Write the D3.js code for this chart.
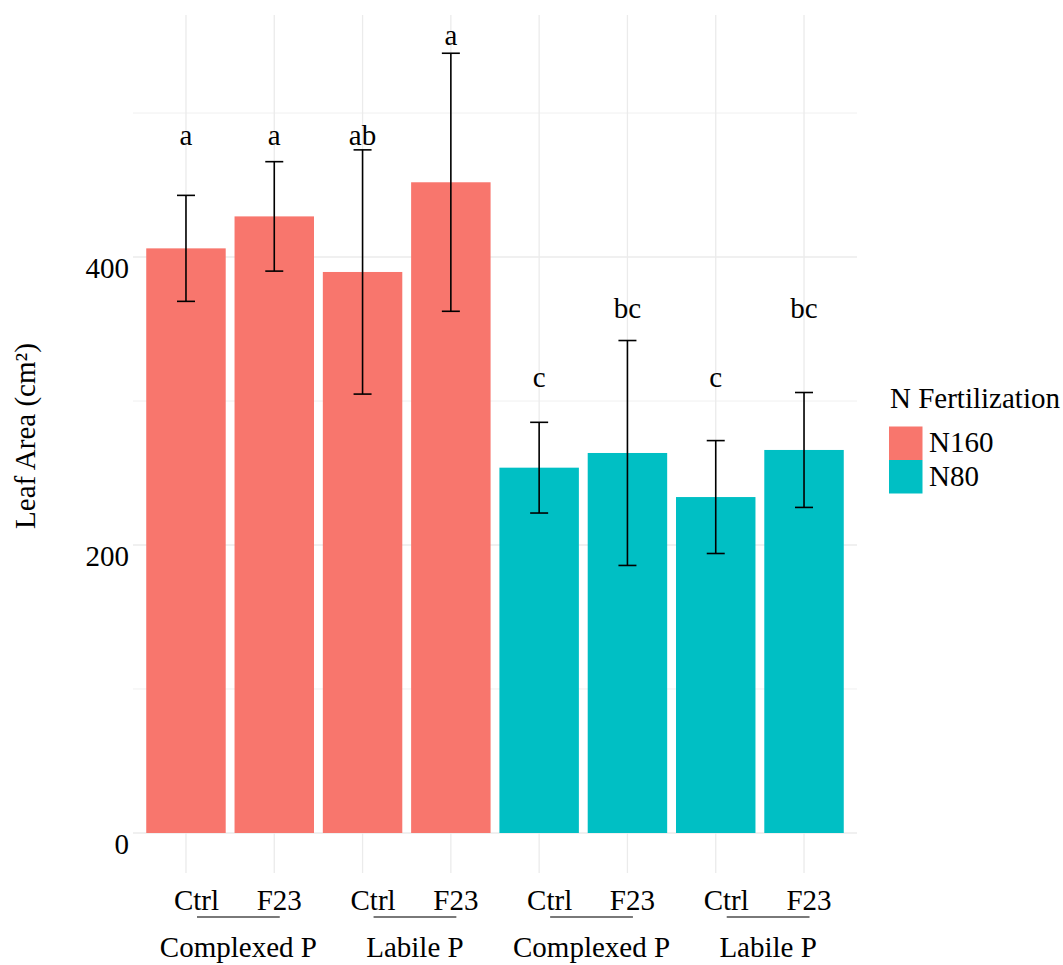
<!DOCTYPE html>
<html>
<head>
<meta charset="utf-8">
<script src="https://cdn.jsdelivr.net/npm/d3@7"></script>
<style>
  html, body { margin: 0; padding: 0; background: #fff; }
  svg { display: block; font-family: "Liberation Serif", "Times New Roman", serif; }
</style>
</head>
<body>
<svg id="chart" width="1063" height="965"></svg>
<script>
// ---- data ----
const treatments = ["Ctrl", "F23", "Ctrl", "F23", "Ctrl", "F23", "Ctrl", "F23"];
const phosphorus = ["Complexed P", "Complexed P", "Labile P", "Labile P", "Complexed P", "Complexed P", "Labile P", "Labile P"];
const nitrogen = ["N160", "N160", "N160", "N160", "N80", "N80", "N80", "N80"];
const means = [406.0, 428.2, 389.6, 451.9, 253.7, 263.9, 233.3, 266.0];
const ses = [36.8, 38.0, 84.8, 89.6, 31.5, 78.1, 39.2, 39.9];
const letters = ["a", "a", "ab", "a", "c", "bc", "c", "bc"];
const letterY = [477.8, 477.8, 477.8, 547.2, 309.7, 357.6, 309.7, 357.6];
const nLevels = ["N160", "N80"];
const nColors = ["#F8766D", "#00BFC4"];
const yMajor = [0, 200, 400];
const yMinor = [100, 300, 500];
const yTitle = "Leaf Area (cm²)";
const legendTitle = "N Fertilization";

// ---- layout ----
const svg = d3.select("#chart");
const panel = { left: 133, right: 857, top: 15, bottom: 873 };
const fontSize = 29;

const idx = d3.range(means.length);
const x = d3.scaleBand().domain(idx).range([panel.left, panel.right]).paddingInner(0).paddingOuter(0.1);
const y = d3.scaleLinear().domain([-27.78, 568.06]).range([panel.bottom, panel.top]);
const color = d3.scaleOrdinal().domain(nLevels).range(nColors);
const cx = i => x(i) + x.bandwidth() / 2;
const barW = x.bandwidth() * 0.9;

// grid
const grid = svg.append("g");
grid.selectAll("line.minor").data(yMinor).join("line")
  .attr("x1", panel.left).attr("x2", panel.right)
  .attr("y1", d => y(d)).attr("y2", d => y(d))
  .attr("stroke", "#EEEEEE").attr("stroke-width", 0.9);
grid.selectAll("line.major").data(yMajor).join("line")
  .attr("x1", panel.left).attr("x2", panel.right)
  .attr("y1", d => y(d)).attr("y2", d => y(d))
  .attr("stroke", "#EBEBEB").attr("stroke-width", 1.3);
grid.selectAll("line.vert").data(idx).join("line")
  .attr("x1", d => cx(d)).attr("x2", d => cx(d))
  .attr("y1", panel.top).attr("y2", panel.bottom)
  .attr("stroke", "#EBEBEB").attr("stroke-width", 1.3);

// bars
svg.append("g").selectAll("rect").data(idx).join("rect")
  .attr("x", d => cx(d) - barW / 2)
  .attr("width", barW)
  .attr("y", d => y(means[d]))
  .attr("height", d => y(0) - y(means[d]))
  .attr("fill", d => color(nitrogen[d]));

// error bars
const eb = svg.append("g").attr("stroke", "#000").attr("stroke-width", 1.6);
const capW = 9;
idx.forEach(i => {
  const lo = y(means[i] - ses[i]), hi = y(means[i] + ses[i]);
  eb.append("line").attr("x1", cx(i)).attr("x2", cx(i)).attr("y1", lo).attr("y2", hi);
  eb.append("line").attr("x1", cx(i) - capW).attr("x2", cx(i) + capW).attr("y1", lo).attr("y2", lo);
  eb.append("line").attr("x1", cx(i) - capW).attr("x2", cx(i) + capW).attr("y1", hi).attr("y2", hi);
});

// letters
svg.append("g").selectAll("text").data(idx).join("text")
  .attr("x", d => cx(d)).attr("y", d => y(letterY[d]))
  .attr("text-anchor", "middle").attr("font-size", fontSize).attr("fill", "#000")
  .text(d => letters[d]);

// y axis labels
svg.append("g").selectAll("text").data(yMajor).join("text")
  .attr("x", 129).attr("y", d => y(d) + 21)
  .attr("text-anchor", "end").attr("font-size", fontSize).attr("fill", "#000")
  .text(d => d);

// y title
svg.append("text")
  .attr("transform", "translate(35,436) rotate(-90)")
  .attr("text-anchor", "middle").attr("font-size", fontSize).attr("fill", "#000")
  .text(yTitle);

// x labels (nested)
const tickOffset = { Ctrl: 10.5, F23: 5 };
svg.append("g").selectAll("text").data(idx).join("text")
  .attr("x", d => cx(d) + tickOffset[treatments[d]]).attr("y", 910)
  .attr("text-anchor", "middle").attr("font-size", fontSize).attr("fill", "#000")
  .text(d => treatments[d]);

const groupIdx = d3.range(0, means.length, 2);
groupIdx.forEach(g => {
  const x1 = cx(g) + 11, x2 = cx(g + 1) + 5.5;
  svg.append("line").attr("x1", x1).attr("x2", x2).attr("y1", 917).attr("y2", 917)
    .attr("stroke", "#4D4D4D").attr("stroke-width", 1.4);
  svg.append("text").attr("x", (x1 + x2) / 2).attr("y", 957)
    .attr("text-anchor", "middle").attr("font-size", fontSize).attr("fill", "#000")
    .text(phosphorus[g]);
});

// legend
const lg = svg.append("g");
lg.append("text").attr("x", 890).attr("y", 408).attr("font-size", fontSize).attr("fill", "#000").text(legendTitle);
nLevels.forEach((n, k) => {
  lg.append("rect").attr("x", 889).attr("y", 426.5 + k * 33.5).attr("width", 33.5).attr("height", 33.5)
    .attr("fill", color(n));
  lg.append("text").attr("x", 929).attr("y", 452 + k * 33.5).attr("font-size", fontSize).attr("fill", "#000").text(n);
});
</script>
</body>
</html>
